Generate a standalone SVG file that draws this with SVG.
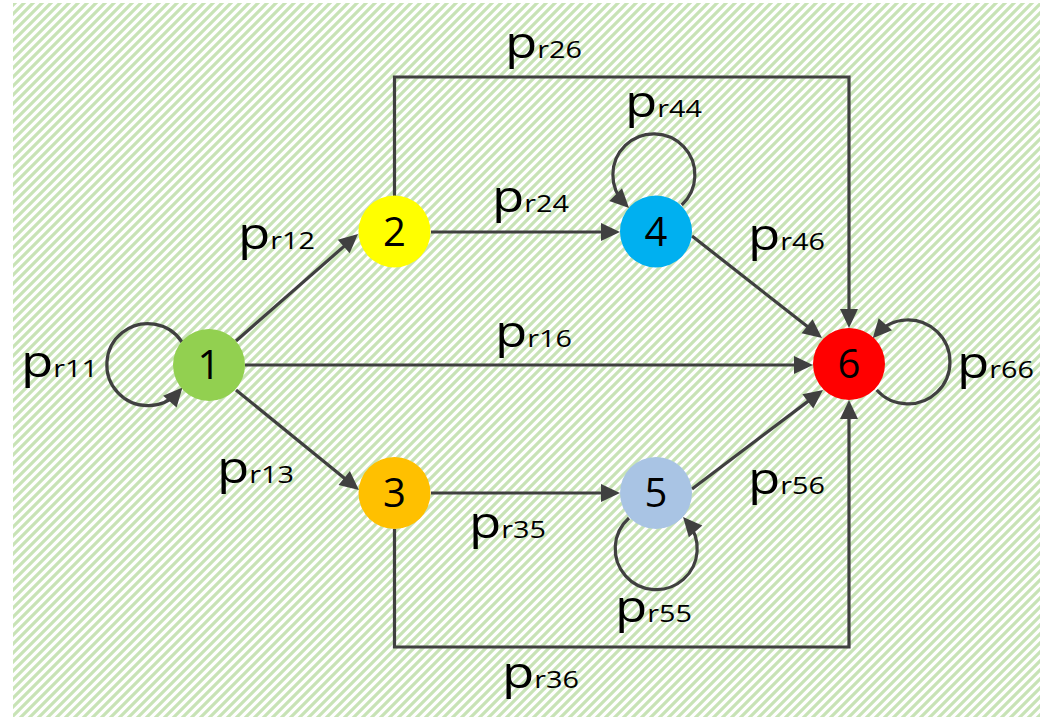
<svg xmlns="http://www.w3.org/2000/svg" width="1040" height="717" viewBox="0 0 1040 717">
<style>
.e{fill:none;stroke:#404040;stroke-width:3.2;marker-end:url(#ah)}
.n text{font-family:"Open Sans",Lato,"Liberation Sans",sans-serif;font-size:40px;text-anchor:middle;fill:#000}
.lbl{font-family:"Open Sans",Lato,"Liberation Sans",sans-serif;fill:#000}
.p{font-size:44px}
.s{font-size:24px}
</style>
<defs>
<pattern id="hatch" patternUnits="userSpaceOnUse" width="9" height="9">
<rect width="9" height="9" fill="#ffffff"/>
<path d="M-2,2 L2,-2 M0,9 L9,0 M7,11 L11,7" stroke="#c8e3b6" stroke-width="3.2"/>
</pattern>
<marker id="ah" markerUnits="userSpaceOnUse" markerWidth="22" markerHeight="20" refX="13" refY="9" orient="auto" overflow="visible">
<path d="M0,0 L19,9 L0,18 Z" fill="#404040"/>
</marker>
</defs>
<rect x="13" y="3" width="1027" height="714" fill="url(#hatch)"/>
<g id="connectors">
<path class="e" d="M236,341 L353.5,238"/>
<path class="e" d="M236,390 L354.3,486.2"/>
<path class="e" d="M245,365 L807,365"/>
<path class="e" d="M431,232 L614,232"/>
<path class="e" d="M431,493 L614,493"/>
<path class="e" d="M394.5,196 V77 H849 V322"/>
<path class="e" d="M394.5,529 V647 H849 V406"/>
<path class="e" d="M692,236 L817.3,334.3"/>
<path class="e" d="M692,489 L818.2,393.6"/>
<path class="e" d="M182,342 A41,41 0 1 0 178.5,391.9"/>
<path class="e" d="M681.7,205 A41,41 0 1 0 624.8,203.8"/>
<path class="e" d="M629,518 A41,41 0 1 0 687,521.6"/>
<path class="e" d="M876.7,390 A42,42 0 1 0 876.7,333.9"/>
</g>
<g id="node1" class="n"><circle cx="209" cy="365" r="36" fill="#92d050"/><text x="209" y="379">1</text></g>
<g id="node2" class="n"><circle cx="394.5" cy="231.5" r="36" fill="#ffff00"/><text x="394.5" y="245.5">2</text></g>
<g id="node3" class="n"><circle cx="394.5" cy="493" r="36" fill="#ffc000"/><text x="394.5" y="507">3</text></g>
<g id="node4" class="n"><circle cx="656" cy="231.5" r="36" fill="#00b0f0"/><text x="656" y="245.5">4</text></g>
<g id="node5" class="n"><circle cx="656" cy="493" r="36" fill="#a9c4e4"/><text x="656" y="507">5</text></g>
<g id="node6" class="n"><circle cx="849" cy="364" r="36" fill="#ff0000"/><text x="849" y="378">6</text></g>
<g id="labels">
<text class="lbl" transform="translate(505,58) scale(1.2,1)"><tspan class="p">p</tspan><tspan class="s">r26</tspan></text>
<text class="lbl" transform="translate(625,117) scale(1.2,1)"><tspan class="p">p</tspan><tspan class="s">r44</tspan></text>
<text class="lbl" transform="translate(492,212) scale(1.2,1)"><tspan class="p">p</tspan><tspan class="s">r24</tspan></text>
<text class="lbl" transform="translate(238,249) scale(1.2,1)"><tspan class="p">p</tspan><tspan class="s">r12</tspan></text>
<text class="lbl" transform="translate(748,250) scale(1.2,1)"><tspan class="p">p</tspan><tspan class="s">r46</tspan></text>
<text class="lbl" transform="translate(495,347) scale(1.2,1)"><tspan class="p">p</tspan><tspan class="s">r16</tspan></text>
<text class="lbl" transform="translate(21,377) scale(1.2,1)"><tspan class="p">p</tspan><tspan class="s">r11</tspan></text>
<text class="lbl" transform="translate(957,378) scale(1.2,1)"><tspan class="p">p</tspan><tspan class="s">r66</tspan></text>
<text class="lbl" transform="translate(217,483) scale(1.2,1)"><tspan class="p">p</tspan><tspan class="s">r13</tspan></text>
<text class="lbl" transform="translate(748,494) scale(1.2,1)"><tspan class="p">p</tspan><tspan class="s">r56</tspan></text>
<text class="lbl" transform="translate(469,538) scale(1.2,1)"><tspan class="p">p</tspan><tspan class="s">r35</tspan></text>
<text class="lbl" transform="translate(615,622) scale(1.2,1)"><tspan class="p">p</tspan><tspan class="s">r55</tspan></text>
<text class="lbl" transform="translate(502,688) scale(1.2,1)"><tspan class="p">p</tspan><tspan class="s">r36</tspan></text>
</g>
</svg>
